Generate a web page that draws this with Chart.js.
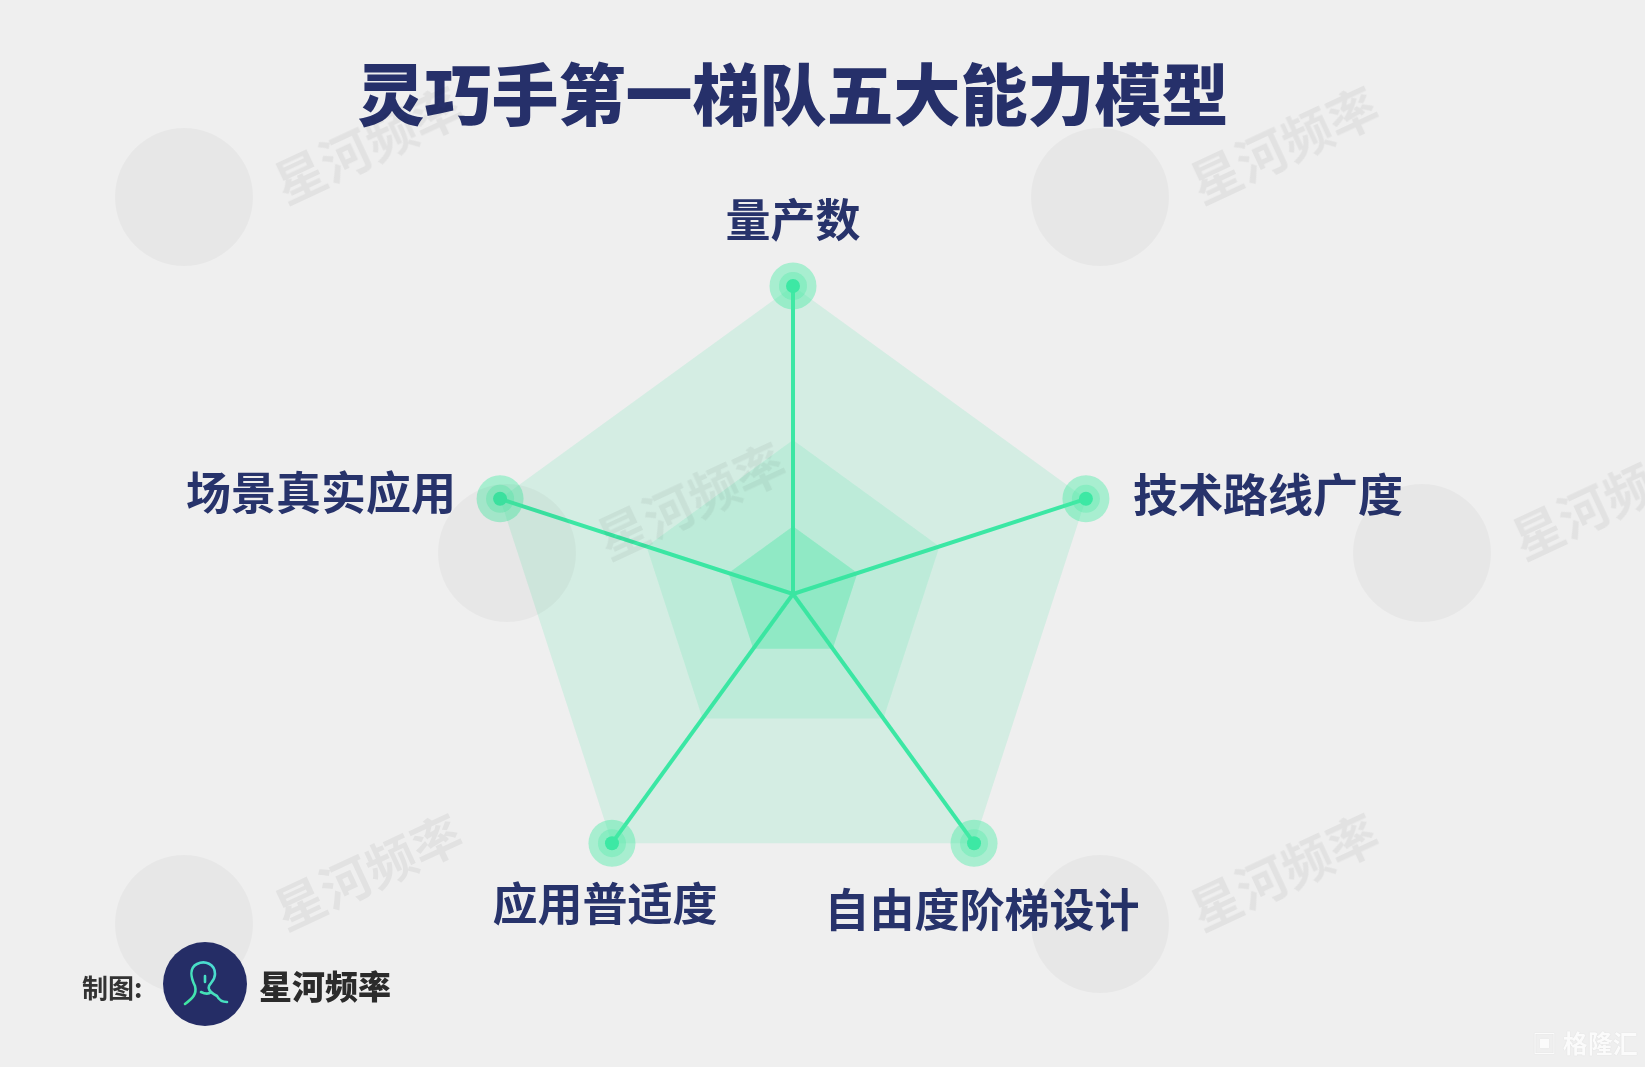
<!DOCTYPE html>
<html>
<head>
<meta charset="utf-8">
<script src="https://cdn.jsdelivr.net/npm/chart.js@4/dist/chart.umd.min.js"></script>
<style>
  html, body { margin: 0; padding: 0; background: #efefef; }
  #page { position: relative; width: 1645px; height: 1067px; overflow: hidden; background: #efefef; font-family: "Noto Sans CJK SC", "Noto Sans", sans-serif; }
  #radar { position: absolute; left: 0; top: 0; }
  .title { position: absolute; left: 0; width: 1586px; top: 57px; text-align: center; font-size: 67px; line-height: 67px; font-weight: 900; color: #26306a; white-space: nowrap; }
  .wm-circle { position: absolute; width: 138px; height: 138px; border-radius: 50%; background: rgba(0, 0, 0, 0.03); pointer-events: none; }
  .wm-text { position: absolute; font-size: 50px; line-height: 50px; font-weight: 700; color: rgba(0, 0, 0, 0.05); transform: translate(-50%, -50%) rotate(-25deg); white-space: nowrap; pointer-events: none; }
  .footer-label { position: absolute; left: 82px; top: 972px; font-size: 26px; line-height: 30px; font-weight: 700; color: #333; }
  .footer-logo { position: absolute; left: 163px; top: 942px; width: 84px; height: 84px; border-radius: 50%; background: #252d66; }
  .footer-name { position: absolute; left: 259px; top: 966px; font-size: 33px; line-height: 38px; font-weight: 900; color: #2b2b2b; }
  .glh { position: absolute; left: 1532px; top: 1028px; font-size: 25px; line-height: 28px; color: rgba(255, 255, 255, 0.9); font-weight: 700; text-shadow: 0 0 1px rgba(0,0,0,0.15); }
</style>
</head>
<body>
<div id="page">
  <canvas id="radar" width="1645" height="1067"></canvas>
  <div class="title">灵巧手第一梯队五大能力模型</div>
  <div id="watermarks"></div>
  <div class="footer-label">制图:</div>
  <div class="footer-logo">
    <svg width="84" height="84" viewBox="0 0 84 84">
      <defs>
        <linearGradient id="lg" x1="0" y1="1" x2="1" y2="0">
          <stop offset="0" stop-color="#3fe6a0"/>
          <stop offset="1" stop-color="#4fd8e0"/>
        </linearGradient>
      </defs>
      <path d="M22 62 C30 56 34 52 32 44 C28 36 26 26 34 22 C42 18 52 22 52 32 C52 38 48 40 46 44 C44 48 50 52 54 54 C56 58 60 60 64 60 M42 34 L42 40 M38 50 C42 52 46 52 48 50" fill="none" stroke="url(#lg)" stroke-width="2.6" stroke-linecap="round"/>
    </svg>
  </div>
  <div class="footer-name">星河频率</div>
  <div class="glh">▣ 格隆汇</div>
</div>
<script>
const CATEGORIES = ["量产数", "技术路线广度", "自由度阶梯设计", "应用普适度", "场景真实应用"];
const SCORES = [100, 100, 100, 100, 100];
const LEVELS = [100, 50, 22];
const SCALE_MAX = 100;

const SPOKE_COLOR = "#3be8a5";
const NAVY = "#27336b";

function addWatermarks() {
    const HOLDER = document.getElementById("watermarks");
    const SPOTS = [[184, 197], [1100, 197], [507, 553], [1422, 553], [184, 924], [1100, 924]];
    SPOTS.forEach(function (spot) {
        const CIRCLE = document.createElement("div");
        CIRCLE.classList.add("wm-circle");
        CIRCLE.style.left = (spot[0] - 69) + "px";
        CIRCLE.style.top = (spot[1] - 69) + "px";
        HOLDER.appendChild(CIRCLE);

        const TEXT = document.createElement("div");
        TEXT.classList.add("wm-text");
        TEXT.textContent = "星河频率";
        TEXT.style.left = (spot[0] + 183) + "px";
        TEXT.style.top = (spot[1] - 55) + "px";
        HOLDER.appendChild(TEXT);
    });
}

// category names drawn around the web, placed from the scale's own point positions
const pointLabelPlugin = {
    id: "pointLabelPlugin",
    afterDraw(chart) {
        const scale = chart.scales.r;
        const ctx = chart.ctx;
        const place = [
            { dx: 0, dy: -66, align: "center" },
            { dx: 47, dy: -4, align: "left" },
            { dx: 8, dy: 67, align: "center" },
            { dx: -7, dy: 61, align: "center" },
            { dx: -44, dy: -6, align: "right" }
        ];
        ctx.save();
        ctx.fillStyle = NAVY;
        ctx.font = "700 45px 'Noto Sans CJK SC'";
        ctx.textBaseline = "middle";
        CATEGORIES.forEach(function (name, i) {
            const p = scale.getPointPositionForValue(i, SCALE_MAX);
            ctx.textAlign = place[i].align;
            ctx.fillText(name, p.x + place[i].dx, p.y + place[i].dy);
        });
        ctx.restore();
    }
};

function createChart() {
    const bandAlpha = [0.15, 0.15, 0.35];
    const bands = LEVELS.map(function (level, i) {
        return {
            data: CATEGORIES.map(function () { return level; }),
            backgroundColor: "rgba(60, 230, 160, " + bandAlpha[i] + ")",
            borderWidth: 0,
            pointRadius: 0,
            fill: "origin",
            clip: false
        };
    });

    const dots = [
        { r: 7, color: "#3de8a4" },
        { r: 14, color: "rgba(70, 232, 165, 0.32)" },
        { r: 23.5, color: "rgba(70, 235, 165, 0.42)" }
    ].map(function (d) {
        return {
            data: SCORES,
            backgroundColor: "rgba(0,0,0,0)",
            borderColor: "rgba(0,0,0,0)",
            borderWidth: 0,
            fill: false,
            pointRadius: d.r,
            pointBorderWidth: 0,
            pointBackgroundColor: d.color,
            clip: false
        };
    });

    const ctx = document.getElementById("radar").getContext("2d");
    return new Chart(ctx, {
        type: "radar",
        data: {
            labels: CATEGORIES,
            datasets: dots.concat(bands)
        },
        options: {
            responsive: false,
            animation: false,
            events: [],
            layout: { padding: { left: 485, right: 544, top: 286, bottom: 165 } },
            plugins: {
                legend: { display: false },
                tooltip: { enabled: false }
            },
            elements: { line: { tension: 0 } },
            scales: {
                r: {
                    min: 0,
                    max: SCALE_MAX,
                    ticks: { display: false },
                    grid: { display: false },
                    pointLabels: { display: false },
                    angleLines: { display: true, color: SPOKE_COLOR, lineWidth: 4 }
                }
            }
        },
        plugins: [pointLabelPlugin]
    });
}

addWatermarks();
createChart();
</script>
</body>
</html>
